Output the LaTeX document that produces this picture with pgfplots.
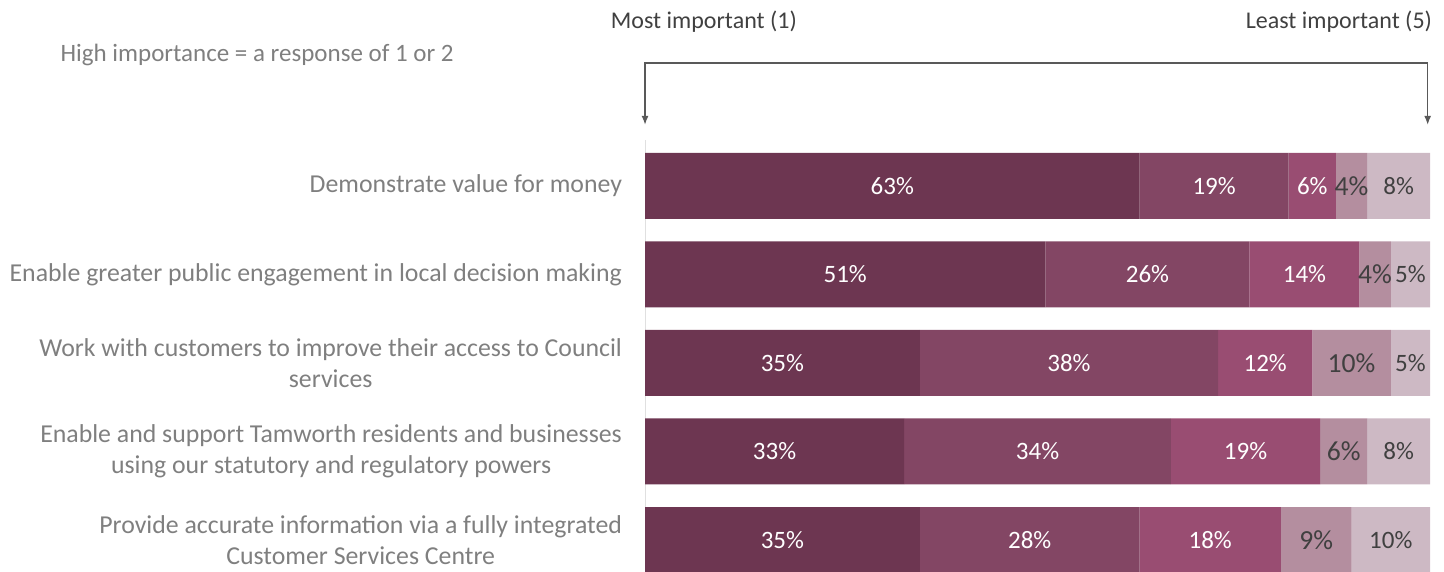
\documentclass[border=0pt]{standalone}
\usepackage{pgfplots}
\pgfplotsset{compat=1.18}
\usepackage{pgfplotstable}
\usepackage{fontspec}
\setmainfont{Carlito}
\usetikzlibrary{arrows.meta}

\definecolor{c1}{HTML}{6D3651}
\definecolor{c2}{HTML}{834664}
\definecolor{c3}{HTML}{994D72}
\definecolor{c4}{HTML}{B48E9F}
\definecolor{c5}{HTML}{CDB9C4}
\definecolor{labgray}{HTML}{7F7F7F}
\definecolor{darktxt}{HTML}{404040}
\definecolor{arrowgray}{HTML}{595959}

\pgfplotstableread{
y s1 s2 s3 s4 s5 m1 m2 m3 m4 m5
0 63 19 6 4 8 31.5 72.5 85 90 96
1 51 26 14 4 5 25.5 64 84 93 97.5
2 35 38 12 10 5 17.5 54 79 90 97.5
3 33 34 19 6 8 16.5 50 76.5 89 96
4 35 28 18 9 10 17.5 49 72 85.5 95
}\data

\pgfplotsset{
  common/.style={
    scale only axis, width=392.5pt, height=216pt,
    xmin=0, xmax=100, ymin=-0.52, ymax=4.36, y dir=reverse,
    clip=false, /pgf/number format/assume math mode=true,
  },
  lab/.style 2 args={draw=none, mark=none, nodes near coords={\pgfmathprintnumber{\pgfplotspointmeta}\%},
    point meta=explicit,
    every node near coord/.append style={anchor=center, text=#1, font=\fontsize{#2}{15}\selectfont}},
}

\begin{document}
\begin{tikzpicture}
\begin{axis}[common,
  xbar stacked, bar width=33pt,
  axis x line=none, axis y line=left, axis line style={draw=black!12, -},
  ytick={0,1,2,3,4}, major tick length=0pt,
  yticklabels={
    {Demonstrate value for money},
    {Enable greater public engagement in local decision making},
    {Work with customers to improve their access to Council\\services},
    {Enable and support Tamworth residents and businesses\\using our statutory and regulatory powers},
    {Provide accurate information via a fully integrated\\Customer Services Centre}},
  yticklabel style={font=\fontsize{12.9}{15.5}\selectfont, text=labgray, align=center, xshift=-8pt},
]
\addplot[fill=c1, draw=none] table[x=s1, y=y]{\data};
\addplot[fill=c2, draw=none] table[x=s2, y=y]{\data};
\addplot[fill=c3, draw=none] table[x=s3, y=y]{\data};
\addplot[fill=c4, draw=none] table[x=s4, y=y]{\data};
\addplot[fill=c5, draw=none] table[x=s5, y=y]{\data};

\draw[{Latex[length=4.5pt,width=3.5pt]}-{Latex[length=4.5pt,width=3.5pt]}, color=arrowgray, line width=0.65pt]
  (axis cs:0,-0.69) -- (axis cs:0,-1.39) -- (axis cs:99.7,-1.39) -- (axis cs:99.7,-0.69);
\node[anchor=center, text=darktxt, font=\fontsize{12}{14}\selectfont] at (axis cs:7.5,-1.85) {Most important (1)};
\node[anchor=east, text=darktxt, font=\fontsize{12}{14}\selectfont, inner sep=0pt] at (axis cs:100.3,-1.85) {Least important (5)};
\node[anchor=west, text=labgray, font=\fontsize{12.5}{15}\selectfont, inner sep=0pt] at (axis cs:-74.5,-1.48) {High importance = a response of 1 or 2};

\coordinate (bbsw) at (axis cs:-82.17,4.36);
\coordinate (bbne) at (axis cs:101.78,-2.10);
\end{axis}

\begin{axis}[common, hide axis]
\addplot[lab={white}{12.5}] table[x=m1, y=y, meta=s1]{\data};
\addplot[lab={white}{12.5}] table[x=m2, y=y, meta=s2]{\data};
\addplot[lab={white}{12.5}] table[x=m3, y=y, meta=s3]{\data};
\addplot[lab={darktxt}{13.8}] table[x=m4, y=y, meta=s4]{\data};
\addplot[lab={darktxt}{12.5}] table[x=m5, y=y, meta=s5]{\data};
\end{axis}
\pgfresetboundingbox
\path[use as bounding box] (bbsw) rectangle (bbne);
\end{tikzpicture}
\end{document}
